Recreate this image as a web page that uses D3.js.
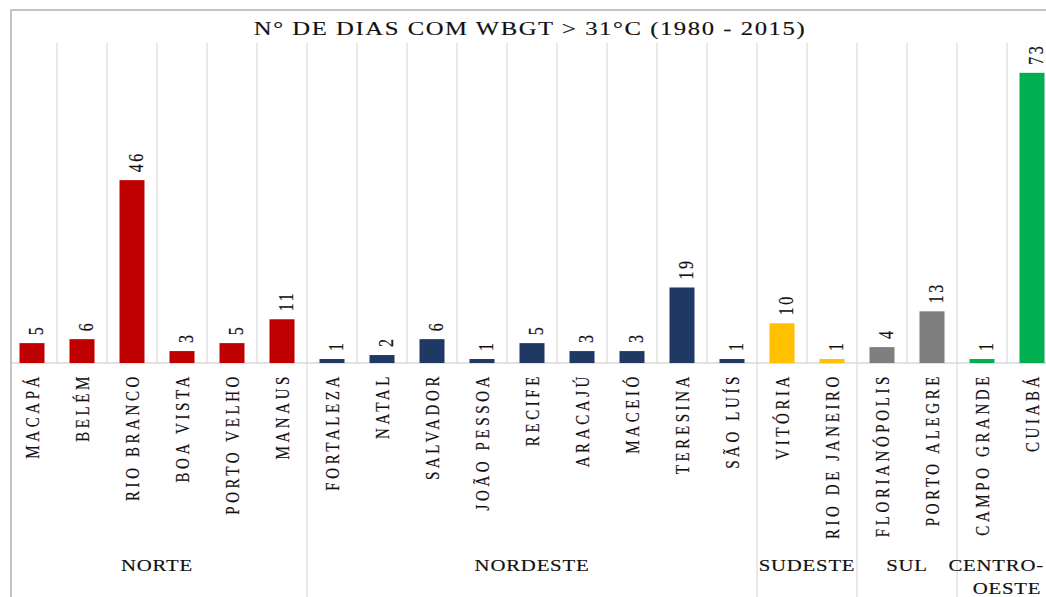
<!DOCTYPE html>
<html>
<head>
<meta charset="utf-8">
<script src="https://cdn.jsdelivr.net/npm/d3@7"></script>
<style>
  html, body { margin: 0; padding: 0; background: #fff; }
  svg { display: block; }
  text { font-family: "Liberation Serif", "Times New Roman", serif; fill: #111; stroke: #111; stroke-width: 0.15px; }
</style>
</head>
<body>
<svg id="chart" width="1046" height="597"></svg>
<script>
const title = "N° DE DIAS COM WBGT > 31°C (1980 - 2015)";
const categories = ["MACAPÁ","BELÉM","RIO BRANCO","BOA VISTA","PORTO VELHO","MANAUS",
  "FORTALEZA","NATAL","SALVADOR","JOÃO PESSOA","RECIFE","ARACAJÚ","MACEIÓ","TERESINA","SÃO LUÍS",
  "VITÓRIA","RIO DE JANEIRO","FLORIANÓPOLIS","PORTO ALEGRE","CAMPO GRANDE","CUIABÁ"];
const values = [5,6,46,3,5,11,1,2,6,1,5,3,3,19,1,10,1,4,13,1,73];
const regionNames = ["NORTE","NORDESTE","SUDESTE","SUL","CENTRO-OESTE"];
const regionLines = [["NORTE"],["NORDESTE"],["SUDESTE"],["SUL"],["CENTRO-","OESTE"]];
const regionCounts = [6,9,2,2,2];
const regionColors = ["#C00000","#203864","#FFC000","#7F7F7F","#00B050"];

const svg = d3.select("#chart");
const S = 1.3; // horizontal glyph stretch seen in the reference

// layout
const x0 = 7, bandW = 50;
const n = categories.length;
const baseY = 363, topY = 45;

const x = d3.scaleBand().domain(categories).range([x0, x0 + n * bandW]).paddingInner(0.5).paddingOuter(0.25);
const y = d3.scaleLinear().domain([0, 80]).range([baseY, topY]);

const regionOf = [];
regionCounts.forEach((c, i) => { for (let k = 0; k < c; k++) regionOf.push(i); });

// outer border
svg.append("rect").attr("x", 11).attr("y", 10).attr("width", 1100).attr("height", 700)
  .attr("fill", "none").attr("stroke", "#c4c4c4").attr("stroke-width", 2);

// vertical gridlines between categories
const bounds = d3.range(1, n + 1).map(i => x0 + i * bandW);
svg.append("g").selectAll("line").data(bounds).join("line")
  .attr("x1", d => d).attr("x2", d => d)
  .attr("y1", topY - 2).attr("y2", baseY)
  .attr("stroke", "#d9d9d9").attr("stroke-width", 1.2);

// baseline
svg.append("line").attr("x1", 12).attr("x2", 1046).attr("y1", baseY).attr("y2", baseY)
  .attr("stroke", "#d9d9d9").attr("stroke-width", 1.5);

// group separators below axis
let acc = 0;
const sepX = [];
regionCounts.forEach(c => { acc += c; sepX.push(x0 + acc * bandW); });
svg.append("g").selectAll("line").data(sepX).join("line")
  .attr("x1", d => d).attr("x2", d => d)
  .attr("y1", baseY).attr("y2", 597)
  .attr("stroke", "#d9d9d9").attr("stroke-width", 1.2);

// bars
svg.append("g").selectAll("rect").data(categories).join("rect")
  .attr("x", d => x(d))
  .attr("width", x.bandwidth())
  .attr("y", (d, i) => y(values[i]))
  .attr("height", (d, i) => baseY - y(values[i]))
  .attr("fill", (d, i) => regionColors[regionOf[i]]);

// value labels (rotated)
svg.append("g").selectAll("text").data(categories).join("text")
  .attr("transform", (d, i) => `translate(${x(d) + x.bandwidth() / 2 + 11},${y(values[i]) - 8}) scale(${S},1) rotate(-90)`)
  .attr("text-anchor", "start")
  .style("font-size", "16px")
  .style("letter-spacing", "2.5px")
  .text((d, i) => values[i]);

// category labels (rotated)
svg.append("g").selectAll("text").data(categories).join("text")
  .attr("transform", d => `translate(${x(d) + x.bandwidth() / 2 + 7},${baseY + 10}) scale(${S},1) rotate(-90)`)
  .attr("text-anchor", "end")
  .style("font-size", "15px")
  .style("letter-spacing", "3.6px")
  .text(d => d);

// region labels
let start = 0;
regionLines.forEach((lines, i) => {
  let cx = x0 + (start + regionCounts[i] / 2) * bandW;
  start += regionCounts[i];
  lines.forEach((ln, j) => {
    const t = svg.append("text")
      .attr("text-anchor", "middle")
      .style("font-size", "16px")
      .style("letter-spacing", "0.6px")
      .text(ln);
    const w = t.node().getComputedTextLength() * S;
    const cxx = Math.min(cx, 1044 - w / 2);
    t.attr("transform", `translate(${cxx},${571 + j * 22.5}) scale(${S},1)`);
  });
});

// title
svg.append("text")
  .attr("transform", `translate(530,35) scale(${S},1)`)
  .attr("text-anchor", "middle")
  .style("font-size", "19px")
  .style("letter-spacing", "1.2px")
  .text(title);
</script>
</body>
</html>
